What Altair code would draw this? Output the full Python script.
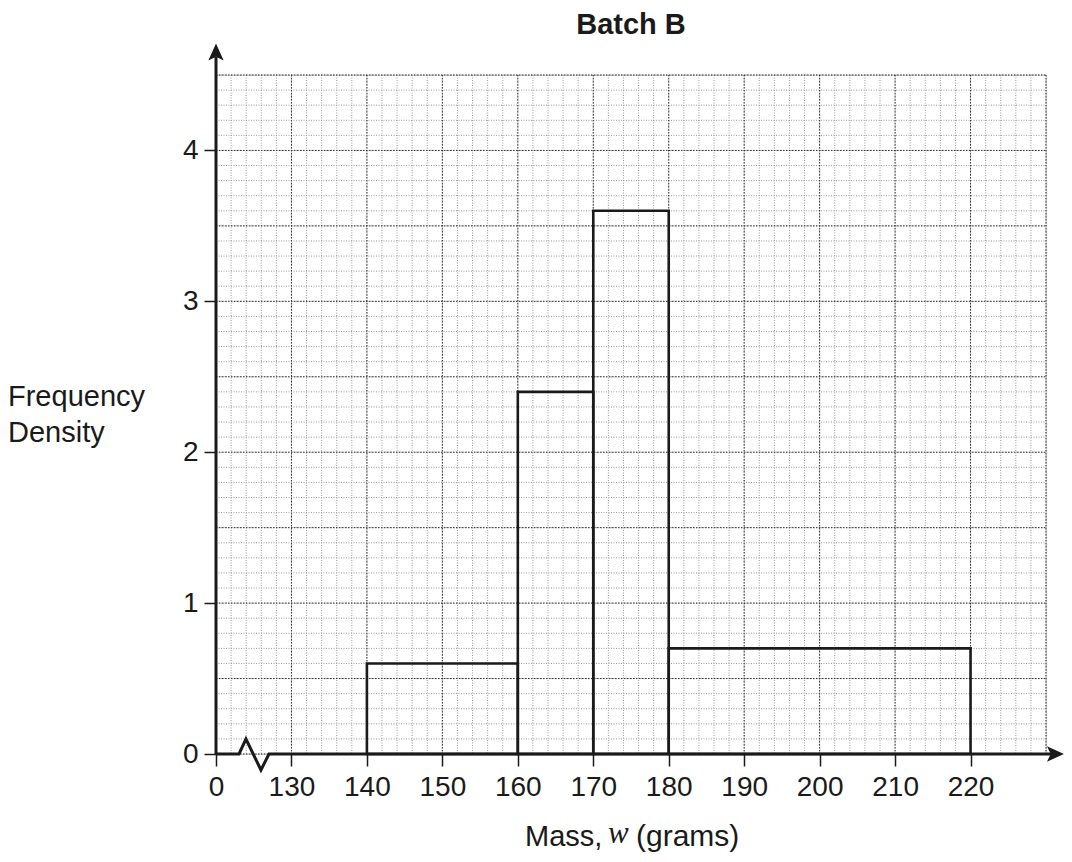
import altair as alt
import pandas as pd

# Histogram data (Batch B)
bin_start = [140, 160, 170, 180]
bin_end = [160, 170, 180, 220]
freq_density = [0.6, 2.4, 3.6, 0.7]

x_tick_values = [120, 130, 140, 150, 160, 170, 180, 190, 200, 210, 220]
y_tick_values = [0, 1, 2, 3, 4]

X_MIN, X_MAX = 120, 230
Y_MIN, Y_MAX = 0, 4.5

FONT = "Liberation Sans"
INK = "#1a1a1a"

bars = pd.DataFrame({"x0": bin_start, "x1": bin_end, "fd": freq_density})

minor_x = pd.DataFrame({"v": [X_MIN + 2 * i for i in range(int((X_MAX - X_MIN) / 2) + 1)]})
major_x = pd.DataFrame({"v": [X_MIN + 10 * i for i in range(int((X_MAX - X_MIN) / 10) + 1)]})
minor_y = pd.DataFrame({"v": [round(0.1 * i, 2) for i in range(46)]})
major_y = pd.DataFrame({"v": [round(0.5 * i, 2) for i in range(10)]})

xs = alt.Scale(domain=[X_MIN, X_MAX], nice=False, zero=False)
ys = alt.Scale(domain=[Y_MIN, Y_MAX], nice=False, zero=False)

x_axis = alt.Axis(values=x_tick_values, labelExpr="datum.value == 120 ? '0' : datum.label",
                  domain=False, grid=False, ticks=True, tickSize=12, tickWidth=1.5,
                  tickColor=INK, labelFont=FONT, labelFontSize=28,
                  labelColor=INK, labelPadding=7, labelFlush=False, title=None)
y_axis = alt.Axis(values=y_tick_values, domain=False, grid=False, ticks=True, tickSize=12,
                  tickWidth=1.5, tickColor=INK, labelFont=FONT, labelFontSize=28,
                  labelColor=INK, labelPadding=6, labelFlush=False, format="d", title=None)

def X(field):
    return alt.X(field, scale=xs, axis=x_axis, title=None)

def Y(field):
    return alt.Y(field, scale=ys, axis=y_axis, title=None)

minor_col = "#9a9a9a"
major_col = "#333333"

g_minor_x = alt.Chart(minor_x).mark_rule(color=minor_col, strokeWidth=1, strokeDash=[1, 1.5]).encode(
    x=X("v:Q"), y=alt.value(0), y2=alt.value(679))
g_minor_y = alt.Chart(minor_y).mark_rule(color=minor_col, strokeWidth=1, strokeDash=[1, 1.5]).encode(
    y=Y("v:Q"), x=alt.value(0), x2=alt.value(830))
g_major_x = alt.Chart(major_x).mark_rule(color=major_col, strokeWidth=1, strokeDash=[1.5, 1.5]).encode(
    x=X("v:Q"), y=alt.value(0), y2=alt.value(679))
g_major_y = alt.Chart(major_y).mark_rule(color=major_col, strokeWidth=1, strokeDash=[1.5, 1.5]).encode(
    y=Y("v:Q"), x=alt.value(0), x2=alt.value(830))

bar_layer = alt.Chart(bars).mark_rect(fill=None, stroke=INK, strokeWidth=2.6).encode(
    x=X("x0:Q"), x2="x1:Q", y=Y("fd:Q"), y2=alt.datum(0))

# axis lines (with break zig-zag)
x_axis_pts = pd.DataFrame({
    "x": [120, 123.05, 123.97, 125.96, 127.02, 230.8],
    "y": [0, 0, 0.099, -0.106, 0, 0],
    "o": [0, 1, 2, 3, 4, 5],
})
x_axis_line = alt.Chart(x_axis_pts).mark_line(color=INK, strokeWidth=3, strokeJoin="miter").encode(
    x=X("x:Q"), y=Y("y:Q"), order="o:Q")

y_axis_pts = pd.DataFrame({"x": [120], "y0": [0], "y1": [4.62]})
y_axis_line = alt.Chart(y_axis_pts).mark_rule(color=INK, strokeWidth=3).encode(
    x=X("x:Q"), y=Y("y0:Q"), y2="y1:Q")

arrow_shape = "M0,-1L0.9,1L0,0.55L-0.9,1Z"
arrows = pd.DataFrame({"x": [120, 231.25], "y": [4.652, 0], "a": [0, 90]})
arrow_layer = alt.Chart(arrows).mark_point(shape=arrow_shape, filled=True, fill=INK,
                                           strokeWidth=0, size=289, opacity=1).encode(
    x=X("x:Q"), y=Y("y:Q"), angle=alt.Angle("a:Q", scale=None))

def label(text, x, y, **kw):
    params = dict(font=FONT, fontSize=29, color=INK, baseline="middle", align="left")
    params.update(kw)
    return alt.Chart(pd.DataFrame({"t": [text]})).mark_text(**params).encode(
        text="t:N", x=alt.value(x), y=alt.value(y))

title = label("Batch B", 415, -50, fontWeight="bold", align="center", fontSize=29)
ylab1 = label("Frequency", -208, 321.5)
ylab2 = label("Density", -208, 357.5)
xlab1 = label("Mass,", 309, 762)
xlab2 = label("w", 392, 759, font="Liberation Serif", fontStyle="italic", fontSize=31)
xlab3 = label("(grams)", 420, 762, fontSize=30)

chart = alt.layer(
    g_minor_x, g_minor_y, g_major_x, g_major_y, bar_layer,
    x_axis_line, y_axis_line, arrow_layer,
    title, ylab1, ylab2, xlab1, xlab2, xlab3,
).properties(
    width=830, height=679,
    autosize=alt.AutoSizeParams(type="none"),
    padding={"left": 208, "top": 67, "right": 18, "bottom": 100},
).configure_view(stroke=None).configure(background="white")

chart.save("out.html", embed_options={"renderer": "svg", "actions": False})
